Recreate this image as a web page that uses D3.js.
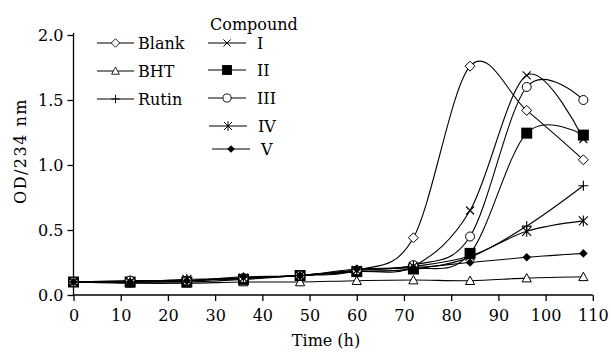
<!DOCTYPE html>
<html><head><meta charset="utf-8">
<script src="https://cdn.jsdelivr.net/npm/d3@7"></script>
<style>body{margin:0;background:#fff}svg{display:block}text{font-family:"DejaVu Serif",serif;fill:#000}</style>
</head><body><svg id="c" width="611" height="352"></svg>
<script>
const times = [0, 12, 24, 36, 48, 60, 72, 84, 96, 108];
const blank = [0.10, 0.11, 0.11, 0.13, 0.15, 0.19, 0.44, 1.76, 1.42, 1.04];
const bht   = [0.10, 0.09, 0.09, 0.10, 0.10, 0.11, 0.115, 0.11, 0.13, 0.14];
const rutin = [0.10, 0.10, 0.11, 0.13, 0.15, 0.18, 0.20, 0.29, 0.53, 0.84];
const cI    = [0.10, 0.10, 0.11, 0.13, 0.15, 0.18, 0.22, 0.65, 1.69, 1.20];
const cII   = [0.10, 0.10, 0.10, 0.12, 0.15, 0.18, 0.20, 0.32, 1.245, 1.23];
const cIII  = [0.10, 0.11, 0.11, 0.13, 0.15, 0.19, 0.23, 0.45, 1.60, 1.50];
const cIV   = [0.10, 0.10, 0.12, 0.13, 0.15, 0.19, 0.22, 0.30, 0.49, 0.57];
const cV    = [0.10, 0.10, 0.11, 0.14, 0.15, 0.20, 0.21, 0.25, 0.29, 0.32];
const xTicks = [0, 10, 20, 30, 40, 50, 60, 70, 80, 90, 100, 110];
const yTicks = [0, 0.5, 1.0, 1.5, 2.0];
const series = [
  {name: "Blank", values: blank, marker: "diamondOpen"},
  {name: "BHT", values: bht, marker: "triangleOpen"},
  {name: "Rutin", values: rutin, marker: "plus"},
  {name: "I", values: cI, marker: "x"},
  {name: "II", values: cII, marker: "squareFilled"},
  {name: "III", values: cIII, marker: "circleOpen"},
  {name: "IV", values: cIV, marker: "asterisk"},
  {name: "V", values: cV, marker: "diamondFilled"}
];

const svg = d3.select("#c");
const x = d3.scaleLinear().domain([0, 110]).range([73.5, 592.8]);
const y = d3.scaleLinear().domain([0, 2]).range([295, 35]);

function marker(g, type, cx, cy, k) {
  k = k || 1;
  const s = g.append("g").attr("transform", `translate(${cx},${cy}) scale(${k})`);
  if (type === "diamondOpen") {
    s.append("path").attr("d", "M0,-5L5,0L0,5L-5,0Z").attr("fill", "#fff").attr("stroke", "#000").attr("stroke-width", 1);
  } else if (type === "diamondFilled") {
    s.append("path").attr("d", "M0,-4.3L4.3,0L0,4.3L-4.3,0Z").attr("fill", "#000");
  } else if (type === "triangleOpen") {
    s.append("path").attr("d", "M0,-4.6L4.6,3.8L-4.6,3.8Z").attr("fill", "#fff").attr("stroke", "#000").attr("stroke-width", 1);
  } else if (type === "squareFilled") {
    s.append("rect").attr("x", -5.5).attr("y", -5.5).attr("width", 11).attr("height", 11).attr("fill", "#000");
  } else if (type === "circleOpen") {
    s.append("circle").attr("r", 4.5).attr("fill", "#fff").attr("stroke", "#000").attr("stroke-width", 1);
  } else if (type === "plus") {
    s.append("path").attr("d", "M-5,0H5M0,-5V5").attr("stroke", "#000").attr("stroke-width", 1.1);
  } else if (type === "x") {
    s.append("path").attr("d", "M-4,-4L4,4M-4,4L4,-4").attr("stroke", "#000").attr("stroke-width", 1.1);
  } else if (type === "asterisk") {
    s.append("path").attr("d", "M-4.5,-4.5L4.5,4.5M-4.5,4.5L4.5,-4.5M0,-5.5V5.5").attr("stroke", "#000").attr("stroke-width", 1.1);
  }
}

// axes
const yAxis = d3.axisLeft(y).tickValues(yTicks).tickFormat(d3.format(".1f")).tickSize(6).tickPadding(4);
const gy = svg.append("g").attr("transform", "translate(73.5,0)").call(yAxis);
const xAxis = d3.axisBottom(x).tickValues(xTicks).tickFormat(d3.format("d")).tickSize(6).tickPadding(9);
const gx = svg.append("g").attr("transform", "translate(0,295)").call(xAxis);
[gx, gy].forEach(g => {
  g.select(".domain").attr("stroke", "#000").attr("stroke-width", 1.3);
  g.selectAll(".tick line").attr("stroke", "#000").attr("stroke-width", 1.3);
  g.selectAll(".tick text").style("font-family", "DejaVu Serif").style("font-size", "16px").attr("fill", "#000");
});
gy.select(".domain").attr("d", "M0,295V33");
gx.select(".domain").attr("d", "M73.5,0H592.8");

svg.append("text").attr("x", 326).attr("y", 346).attr("text-anchor", "middle").style("font-size", "16px").text("Time (h)");
svg.append("text").attr("transform", "translate(26,151) rotate(-90)").attr("text-anchor", "middle")
  .style("font-size", "16px").style("letter-spacing", "1.5px").text("OD/234 nm");

// lines
const line = d3.line().x(d => x(d[0])).y(d => y(d[1])).curve(d3.curveCatmullRom.alpha(0));
const plot = svg.append("g");
series.forEach(s => {
  const pts = times.map((t, i) => [t, s.values[i]]);
  plot.append("path").attr("d", line(pts)).attr("fill", "none").attr("stroke", "#000").attr("stroke-width", 1.1);
});
series.forEach(s => {
  times.forEach((t, i) => marker(plot, s.marker, x(t), y(s.values[i])));
});

// legend
const legLeft = [{s: series[0], y: 43}, {s: series[1], y: 71}, {s: series[2], y: 99}];
const legRight = [{s: series[3], y: 43, x0: 208}, {s: series[4], y: 70, x0: 208}, {s: series[5], y: 98, x0: 208}, {s: series[6], y: 126, x0: 209}, {s: series[7], y: 149, x0: 212}];
const lg = svg.append("g");
legLeft.forEach(e => {
  lg.append("line").attr("x1", 97).attr("x2", 134).attr("y1", e.y).attr("y2", e.y).attr("stroke", "#000").attr("stroke-width", 1.1);
  marker(lg, e.s.marker, 115.5, e.y, 0.85);
  lg.append("text").attr("x", 138).attr("y", e.y + 5.8).style("font-size", "16px").text(e.s.name);
});
lg.append("text").attr("x", 210).attr("y", 30).style("font-size", "16px").text("Compound");
legRight.forEach(e => {
  lg.append("line").attr("x1", e.x0).attr("x2", e.x0 + 38).attr("y1", e.y).attr("y2", e.y).attr("stroke", "#000").attr("stroke-width", 1.1);
  marker(lg, e.s.marker, e.x0 + 19, e.y, 0.9);
  lg.append("text").attr("x", e.x0 + 49).attr("y", e.y + 5.8).style("font-size", "16px").text(e.s.name);
});
</script></body></html>
